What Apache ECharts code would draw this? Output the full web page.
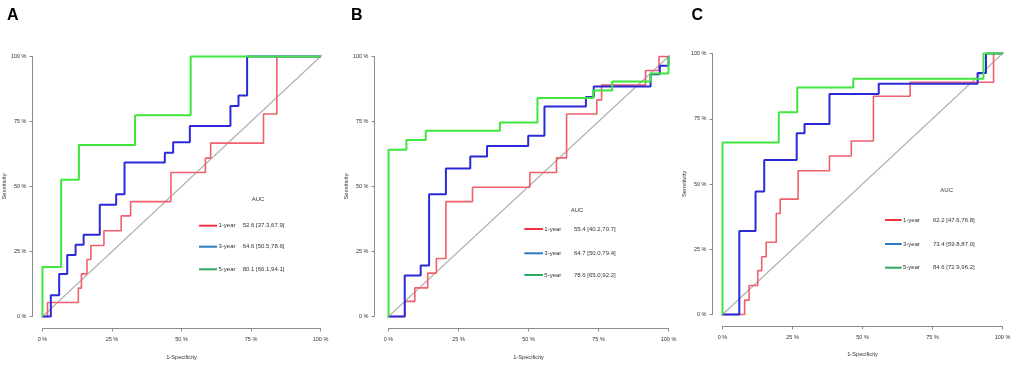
<!DOCTYPE html>
<html>
<head>
<meta charset="utf-8">
<script src="https://cdn.jsdelivr.net/npm/echarts@6/dist/echarts.min.js"></script>
<style>
html,body{margin:0;padding:0;background:#fff;}
#chart{width:1021px;height:367px;}
</style>
</head>
<body>
<div id="chart"></div>
<script>
// ---- DATA (1-Specificity %, Sensitivity %) ----
const panelLetters = ['A', 'B', 'C'];
const seriesNames = ['1-year', '3-year', '5-year'];
const tickValues = [0, 25, 50, 75, 100];
const diagonal = [-4, 104];

// Panel A
const A_1yr_fpr = [0, 1.8, 12.9, 14.0, 16.0, 17.4, 22.1, 28.3, 31.7, 46.2, 58.6, 60.5, 79.5, 84.3, 100];
const A_1yr_tpr = [0, 5.4, 10.9, 16.4, 21.9, 27.3, 33.0, 38.7, 44.2, 55.4, 60.9, 66.7, 77.9, 100, 100];
const A_3yr_fpr = [0, 3.0, 6.0, 8.9, 11.9, 14.8, 20.6, 26.5, 29.5, 44.0, 47.0, 53.0, 67.6, 70.5, 73.6, 100];
const A_3yr_tpr = [0, 8.2, 16.3, 23.7, 27.6, 31.4, 43.0, 47.0, 59.2, 63.0, 67.0, 73.3, 81.0, 85.0, 100, 100];
const A_5yr_fpr = [0, 0, 6.7, 13.1, 33.3, 53.3, 100];
const A_5yr_tpr = [0, 19.0, 52.6, 66.0, 77.4, 100, 100];
const A_auc = ['52.6 [37.3,67.9]', '64.6 [50.5,78.6]', '80.1 [66.1,94.1]'];

// Panel B
const B_1yr_fpr = [0, 5.8, 9.4, 14.0, 17.1, 20.5, 30.0, 50.5, 60.0, 63.6, 74.4, 76.1, 91.8, 96.6, 100];
const B_1yr_tpr = [0, 5.8, 11.0, 16.7, 22.3, 44.2, 49.7, 55.4, 61.0, 77.9, 83.3, 89.0, 94.6, 100, 100];
const B_3yr_fpr = [0, 5.8, 11.5, 14.5, 20.5, 29.2, 35.2, 49.9, 55.7, 70.5, 73.3, 93.6, 96.9, 100];
const B_3yr_tpr = [0, 15.8, 19.6, 47.0, 56.9, 61.5, 65.6, 69.5, 80.8, 84.4, 88.5, 93.2, 96.4, 100];
const B_5yr_fpr = [0, 0, 6.4, 13.3, 39.8, 53.2, 73.1, 79.9, 93.6, 100];
const B_5yr_tpr = [0, 64.1, 67.9, 71.4, 74.6, 84.0, 86.9, 90.4, 93.5, 100];
const B_auc = ['55.4 [40.2,70.7]', '64.7 [50.0,79.4]', '78.6 [65.0,92.2]'];

// Panel C
const C_1yr_fpr = [0, 7.9, 9.5, 12.6, 14.0, 15.6, 19.2, 20.6, 27.0, 38.2, 46.0, 53.9, 67.0, 96.8, 100];
const C_1yr_tpr = [0, 5.5, 11.1, 16.8, 22.1, 27.7, 38.7, 44.2, 55.1, 60.7, 66.5, 83.6, 89.0, 100, 100];
const C_3yr_fpr = [0, 6.0, 11.8, 14.9, 26.5, 29.3, 38.2, 55.8, 91.1, 94.1, 100];
const C_3yr_tpr = [0, 32.0, 47.1, 59.2, 69.4, 73.0, 84.5, 88.4, 92.5, 100, 100];
const C_5yr_fpr = [0, 0, 20.1, 26.7, 46.7, 93.2, 100];
const C_5yr_tpr = [0, 65.9, 77.5, 87.0, 90.3, 100, 100];
const C_auc = ['62.2 [47.6,76.8]', '73.4 [59.8,87.0]', '84.6 [72.9,96.2]'];

// ---- STYLE / LAYOUT ----
const FONT = 'Liberation Sans, Arial, Helvetica, sans-serif';
const lineColors = ['#f0606c', '#2a2ad8', '#3ee63e'];
const lineWidths = [1.6, 2, 2];
const legendColors = ['#ee3440', '#2f78c2', '#2caa62'];
const axisColor = '#8c8c8c';
const textColor = '#333';

const layouts = [
  { left: 40.5, top: 56.5, width: 280, height: 260, yOff: 10, xOff: 12, yNameGap: 23, xNameGap: 26,
    letter: [7, 16], auc: [258, 199], legX: [199, 217], legY: [225.7, 246.7, 269.3], nameX: 218.5, valX: 242.7 },
  { left: 388.5, top: 56.5, width: 280, height: 260, yOff: 14, xOff: 12, yNameGap: 20, xNameGap: 26,
    letter: [351, 16], auc: [577, 210.5], legX: [524.3, 543], legY: [229, 253.3, 275], nameX: 544.3, valX: 574 },
  { left: 722.5, top: 53.5, width: 280, height: 261, yOff: 10, xOff: 12, yNameGap: 22, xNameGap: 25,
    letter: [691.5, 16], auc: [946.7, 190.5], legX: [885, 901.7], legY: [220, 244, 267.7], nameX: 903, valX: 933 }
];

const panelData = [
  [[A_1yr_fpr, A_1yr_tpr], [A_3yr_fpr, A_3yr_tpr], [A_5yr_fpr, A_5yr_tpr]],
  [[B_1yr_fpr, B_1yr_tpr], [B_3yr_fpr, B_3yr_tpr], [B_5yr_fpr, B_5yr_tpr]],
  [[C_1yr_fpr, C_1yr_tpr], [C_3yr_fpr, C_3yr_tpr], [C_5yr_fpr, C_5yr_tpr]]
];
const panelAuc = [A_auc, B_auc, C_auc];

function zip(xs, ys) { return xs.map((x, i) => [x, ys[i]]); }

const grid = [], xAxis = [], yAxis = [], series = [], graphic = [];

layouts.forEach((L, p) => {
  grid.push({ left: L.left, top: L.top, width: L.width, height: L.height, containLabel: false });
  xAxis.push({
    type: 'value', gridIndex: p, min: 0, max: 100, interval: 25, position: 'bottom', offset: L.xOff,
    axisLine: { show: true, onZero: false, lineStyle: { color: axisColor, width: 1 } },
    axisTick: { show: true, length: 3, lineStyle: { color: axisColor, width: 1 } },
    axisLabel: { show: true, margin: 8, fontSize: 5.5, color: textColor, fontFamily: FONT,
      formatter: v => (tickValues.indexOf(v) >= 0 ? v + ' %' : '') },
    splitLine: { show: false },
    name: '1-Specificity', nameLocation: 'middle', nameGap: L.xNameGap,
    nameTextStyle: { fontSize: 5.7, color: textColor, fontFamily: FONT }
  });
  yAxis.push({
    type: 'value', gridIndex: p, min: 0, max: 100, interval: 25, position: 'left', offset: L.yOff,
    axisLine: { show: true, onZero: false, lineStyle: { color: axisColor, width: 1 } },
    axisTick: { show: true, length: 3, lineStyle: { color: axisColor, width: 1 } },
    axisLabel: { show: true, margin: 6, fontSize: 5.5, color: textColor, fontFamily: FONT,
      formatter: v => (tickValues.indexOf(v) >= 0 ? v + ' %' : '') },
    splitLine: { show: false },
    name: 'Sensitivity', nameLocation: 'middle', nameGap: L.yNameGap, nameRotate: 90,
    nameTextStyle: { fontSize: 5.8, color: textColor, fontFamily: FONT }
  });

  // diagonal reference line
  series.push({
    type: 'line', xAxisIndex: p, yAxisIndex: p, clip: false, silent: true,
    data: [[diagonal[0], diagonal[0]], [diagonal[1], diagonal[1]]],
    showSymbol: false, symbol: 'none',
    lineStyle: { color: '#b2b2b2', width: 1.2 }, z: 1
  });

  panelData[p].forEach((d, s) => {
    series.push({
      type: 'line', name: seriesNames[s], xAxisIndex: p, yAxisIndex: p,
      data: zip(d[0], d[1]), step: 'end', showSymbol: false, symbol: 'none', clip: false,
      lineStyle: { color: lineColors[s], width: lineWidths[s] }, z: 2 + s
    });
  });

  // panel letter
  graphic.push({
    type: 'text', x: L.letter[0], y: L.letter[1],
    style: { text: panelLetters[p], font: 'bold 16px ' + FONT, fill: '#000',
      textAlign: 'left', textVerticalAlign: 'middle', align: 'left', verticalAlign: 'middle' }
  });
  // legend
  graphic.push({
    type: 'text', x: L.auc[0], y: L.auc[1],
    style: { text: 'AUC', font: '6px ' + FONT, fill: textColor,
      textAlign: 'center', textVerticalAlign: 'middle', align: 'center', verticalAlign: 'middle' }
  });
  seriesNames.forEach((nm, s) => {
    graphic.push({
      type: 'line', shape: { x1: L.legX[0], y1: L.legY[s], x2: L.legX[1], y2: L.legY[s] },
      style: { stroke: legendColors[s], lineWidth: 2 }
    });
    graphic.push({
      type: 'text', x: L.nameX, y: L.legY[s],
      style: { text: nm, font: '6px ' + FONT, fill: textColor,
        textAlign: 'left', textVerticalAlign: 'middle', align: 'left', verticalAlign: 'middle' }
    });
    graphic.push({
      type: 'text', x: L.valX, y: L.legY[s],
      style: { text: panelAuc[p][s], font: '6px ' + FONT, fill: textColor,
        textAlign: 'left', textVerticalAlign: 'middle', align: 'left', verticalAlign: 'middle' }
    });
  });
});

const chart = echarts.init(document.getElementById('chart'), null, { renderer: 'canvas' });
chart.setOption({
  animation: false,
  backgroundColor: '#ffffff',
  grid: grid, xAxis: xAxis, yAxis: yAxis, series: series, graphic: graphic
});
</script>
</body>
</html>
